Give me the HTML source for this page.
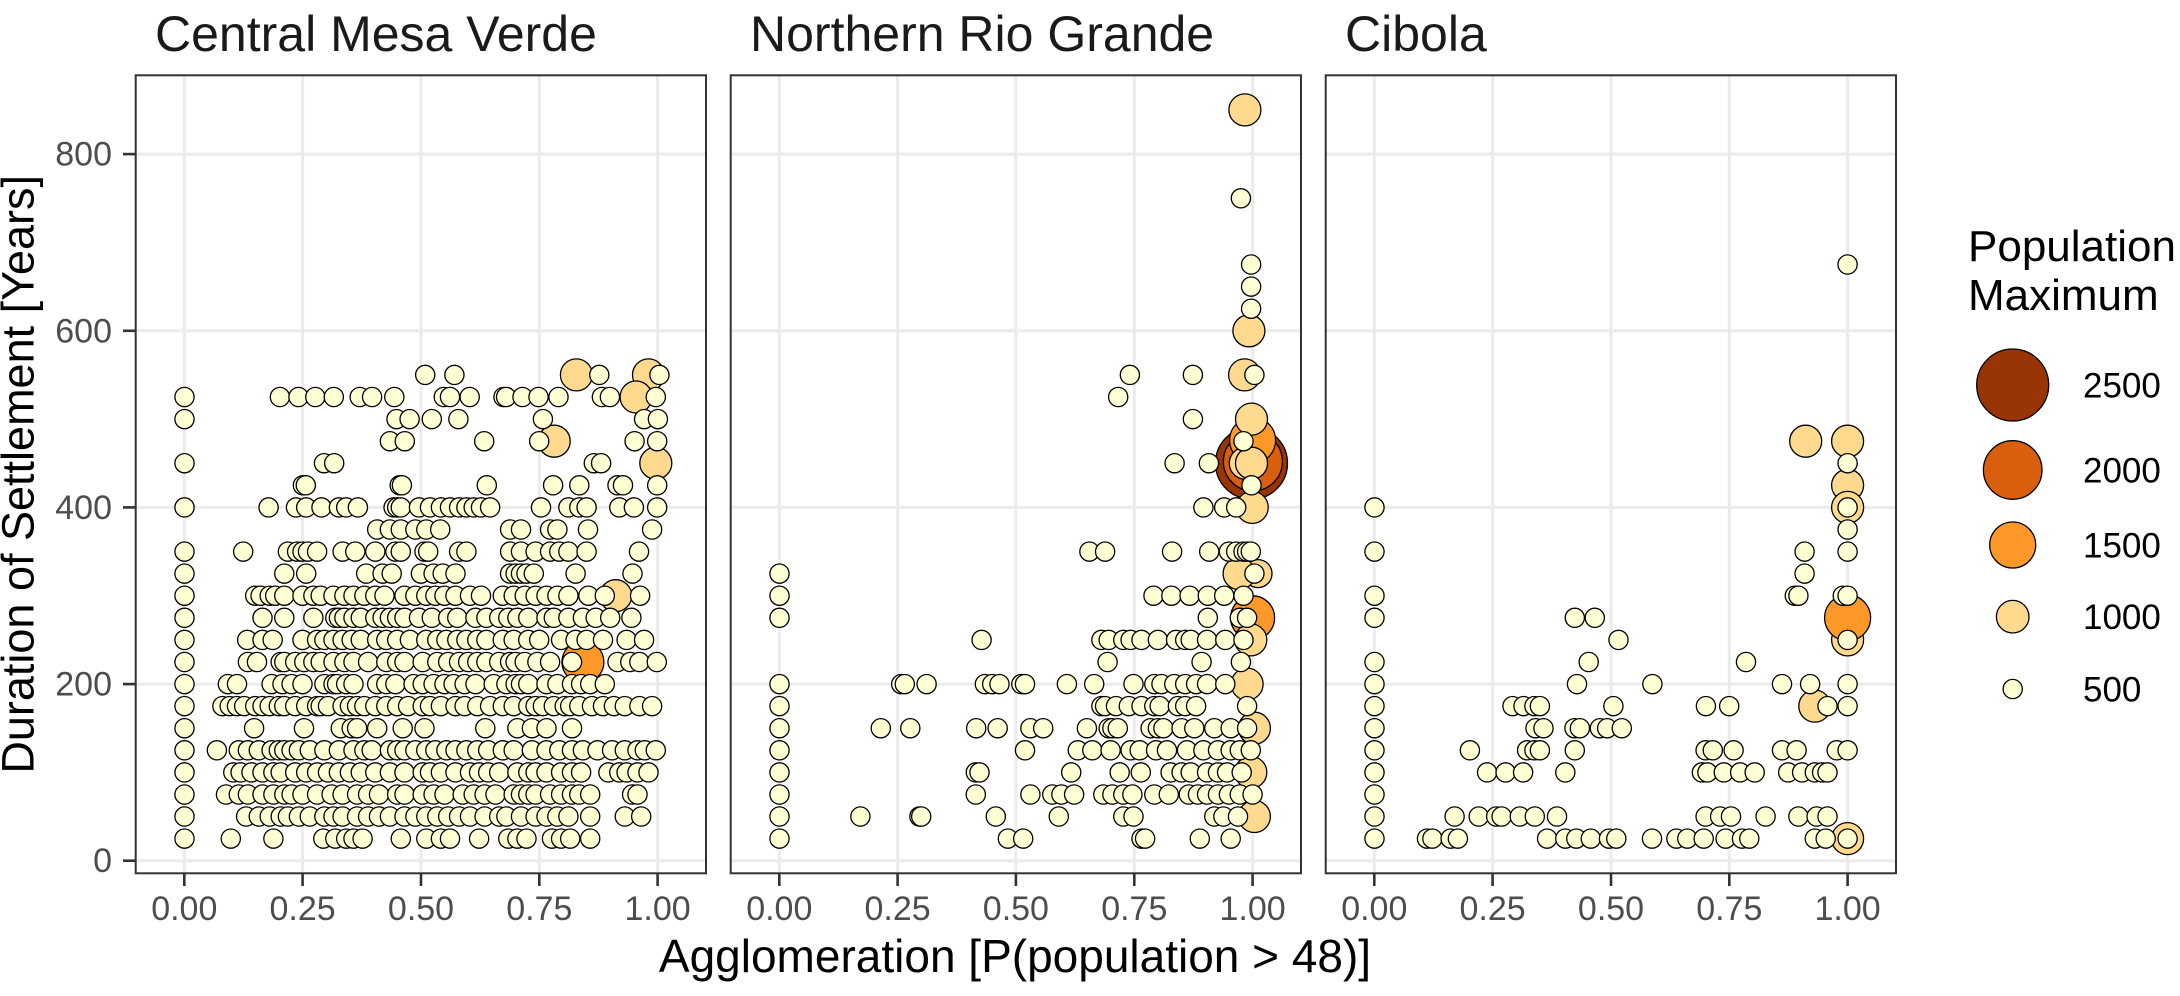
<!DOCTYPE html>
<html>
<head>
<meta charset="utf-8">
<style>
html,body{margin:0;padding:0;background:#fff;}
svg{display:block;font-family:"Liberation Sans",Arial,sans-serif;}
</style>
</head>
<body>
<svg width="2180" height="996" viewBox="0 0 2180 996">
<rect x="0" y="0" width="2180" height="996" fill="#fff"/>
<defs>
<clipPath id="c0"><rect x="135.7" y="75.3" width="570.3" height="798"/></clipPath>
<clipPath id="c1"><rect x="730.7" y="75.3" width="570.3" height="798"/></clipPath>
<clipPath id="c2"><rect x="1325.7" y="75.3" width="570.3" height="798"/></clipPath>
</defs>
<g id="grid" stroke="#EBEBEB" stroke-width="3"></g>
<g clip-path="url(#c0)" id="g0"></g>
<g clip-path="url(#c1)" id="g1"></g>
<g clip-path="url(#c2)" id="g2"></g>
<g fill="none" stroke="#333333" stroke-width="2">
<rect x="135.7" y="75.3" width="570.3" height="798"/>
<rect x="730.7" y="75.3" width="570.3" height="798"/>
<rect x="1325.7" y="75.3" width="570.3" height="798"/>
</g>
<g id="ticks" stroke="#333333" stroke-width="2.6"></g>
<g id="ticklabels" fill="#4D4D4D" font-size="34"></g>
<g fill="#1A1A1A" font-size="50">
<text x="155" y="51">Central Mesa Verde</text>
<text x="750" y="51">Northern Rio Grande</text>
<text x="1345" y="51">Cibola</text>
</g>
<text x="1015" y="972" font-size="46" fill="#000" text-anchor="middle">Agglomeration [P(population &gt; 48)]</text>
<text transform="translate(33.5,474.3) rotate(-90)" font-size="45" fill="#000" text-anchor="middle">Duration of Settlement [Years]</text>
<g fill="#000" font-size="44">
<text x="1968" y="261">Population</text>
<text x="1968" y="310">Maximum</text>
</g>
<g stroke="#000" stroke-width="1.3">
<circle cx="2012.7" cy="385" r="36" fill="#993404"/>
<circle cx="2012.7" cy="470" r="29.3" fill="#D95F0E"/>
<circle cx="2012.7" cy="545" r="23" fill="#FE9929"/>
<circle cx="2012.7" cy="616.7" r="16.3" fill="#FED98E"/>
<circle cx="2012.7" cy="689" r="9.6" fill="#FFFFD4"/>
</g>
<g fill="#000" font-size="35">
<text x="2083" y="397.5">2500</text>
<text x="2083" y="482.5">2000</text>
<text x="2083" y="557.5">1500</text>
<text x="2083" y="629">1000</text>
<text x="2083" y="701.5">500</text>
</g>
</svg>
<script>
(function(){
var L=[135,730,1325];
var PL=[135.7,730.7,1325.7];
var X0=[184.3,779.3,1374.3];
var U=473.3;
function Y(v){return 860.7-v*0.88325;}
var g='',t='',tl='';
for(var p=0;p<3;p++){
  for(var k=0;k<5;k++){
    var x=X0[p]+k*U/4;
    g+='<line x1="'+x.toFixed(1)+'" y1="75.3" x2="'+x.toFixed(1)+'" y2="873.3"/>';
    t+='<line x1="'+x.toFixed(1)+'" y1="874" x2="'+x.toFixed(1)+'" y2="886"/>';
    tl+='<text x="'+x.toFixed(1)+'" y="920" text-anchor="middle">'+['0.00','0.25','0.50','0.75','1.00'][k]+'</text>';
  }
  for(var j=0;j<5;j++){
    var y=Y(j*200);
    g+='<line x1="'+PL[p]+'" y1="'+y.toFixed(1)+'" x2="'+(PL[p]+570.3).toFixed(1)+'" y2="'+y.toFixed(1)+'"/>';
  }
}
for(var j=0;j<5;j++){
  var y=Y(j*200);
  t+='<line x1="123" y1="'+y.toFixed(1)+'" x2="135" y2="'+y.toFixed(1)+'"/>';
  tl+='<text x="112" y="'+(y+11.5).toFixed(1)+'" text-anchor="end">'+(j*200)+'</text>';
}
document.getElementById('grid').innerHTML=g;
document.getElementById('ticks').innerHTML=t;
document.getElementById('ticklabels').innerHTML=tl;

var S=[
`550: 797 877 1275 1440
525: 136 398 449 495 546 617 651 712 848 865 919 1012 1019 1064 1108 1163 1282 1304 1430
500: 136 718 754 815 888 1120 1398 1436
475: 700 741 959 1110 1372 1434
450: 136 519 547 1260 1280
425: 461 469 727 733 966 1148 1220 1325 1340 1434
400: 136 367 442 470 512 560 580 612 710 720 730 780 810 840 865 890 910 930 950 975 1115 1190 1220 1240 1330 1370 1434
375: 665 700 730 770 800 838 1030 1060 1140 1160 1244 1420
350: 136 297 420 445 460 475 500 570 605 660 715 730 795 805 890 910 1030 1060 1100 1140 1165 1190 1240 1384
325: 136 410 470 635 680 705 785 820 845 880 1030 1045 1060 1075 1095 1210 1366
300: 136 330 345 370 385 410 460 490 510 545 575 600 630 660 685 740 770 800 825 850 880 920 950 1010 1040 1070 1100 1130 1160 1190 1245 1290 1387
275: 136 350 410 490 550 560 575 600 620 660 680 700 720 740 780 815 860 885 935 965 1000 1025 1050 1080 1130 1150 1190 1230 1265 1305 1363
250: 136 308 350 378 460 500 520 545 570 595 620 665 690 720 755 800 830 855 885 910 940 965 1010 1040 1080 1110 1170 1210 1240 1285 1350 1398
225: 136 310 335 400 410 440 465 490 510 545 575 600 640 690 720 740 790 830 860 890 915 940 965 1000 1030 1045 1070 1105 1140 1200 1325 1360 1385 1433
200: 136 255 280 375 405 430 460 520 545 555 580 600 665 690 715 765 790 820 850 875 905 935 985 1020 1045 1060 1080 1130 1160 1200 1225 1250 1290
175: 136 240 260 280 300 330 350 370 395 410 440 470 500 510 530 570 590 610 630 660 690 720 750 790 810 840 880 905 940 975 1010 1040 1080 1100 1120 1150 1180 1195 1220 1255 1285 1315 1345 1385 1420
150: 136 327 464 565 595 610 665 735 795 962 1050 1090 1130 1200
125: 136 225 285 310 340 375 395 410 430 450 480 520 560 600 630 650 700 720 740 770 800 825 855 880 910 940 970 1010 1040 1090 1130 1165 1200 1230 1270 1310 1345 1380 1400 1430
100: 136 270 290 320 350 380 400 440 470 500 530 560 590 620 660 700 740 790 810 840 880 920 945 970 1000 1050 1080 1100 1130 1170 1200 1225 1300 1330 1350 1380 1410
75: 136 250 285 310 350 380 410 430 460 500 540 570 610 640 670 720 740 790 820 850 900 930 960 990 1040 1060 1080 1100 1140 1170 1200 1220 1250 1365 1380
50: 136 305 340 370 400 420 450 480 520 545 570 610 640 670 700 740 770 800 830 860 890 920 960 1000 1020 1060 1100 1130 1160 1190 1250 1345 1390
25: 136 263 380 517 550 580 600 625 730 800 840 865 945 1025 1050 1075 1145 1170 1195 1250`,
`750: 1403
675: 1431
650: 1431
625: 1431
550: 1098 1271 1440
525: 1066
500: 1271
350: 987 1030 1214 1316 1370 1390 1410 1420 1430
325: 136 1440
300: 136 1163 1212 1262 1312 1357 1410
275: 136 1312 1400 1420
250: 691 1020 1040 1080 1100 1130 1175 1225 1250 1265 1310 1360 1410
225: 1037 1295 1403
200: 136 470 480 540 700 720 740 800 810 925 1000 1108 1165 1185 1220 1250 1280 1310 1360
175: 136 1020 1030 1060 1095 1130 1165 1180 1230 1250 1280 1420
150: 136 414 495 676 735 825 860 980 1040 1050 1065 1155 1175 1190 1240 1275 1330 1375 1420
125: 136 810 955 995 1045 1100 1125 1170 1200 1255 1300 1340 1375 1400 1430
100: 136 675 685 937 1070 1128 1210 1240 1265 1310 1340 1365 1405
75: 136 675 825 885 910 945 1025 1050 1080 1105 1165 1205 1260 1285 1310 1340 1370 1400 1435
50: 136 358 520 525 730 903 1080 1108 1330 1355 1395
25: 136 763 805 1130 1140 1290 1375`,
`675: 1435
450: 1435
400: 136 1435
375: 1435
350: 136 1317 1435
325: 1317
300: 136 1290 1300 1422 1435
275: 136 686 741
250: 806 1435
225: 136 724 1156
200: 136 692 899 1255 1332 1435
175: 136 515 545 575 590 792 1046 1110 1380 1435
150: 136 578 600 685 700 755 775 815
125: 136 398 555 575 590 686 1045 1065 1122 1255 1295 1405 1435
100: 136 445 496 544 660 1035 1050 1095 1140 1180 1272 1310 1345 1365 1380
75: 136
50: 136 356 422 470 485 535 576 637 1045 1085 1115 1210 1300 1350 1380
25: 136 280 295 345 365 610 660 690 730 780 800 898 965 995 1040 1100 1145 1165 1345 1375 1435`
];
var D='#FED98E',C='#FE9929',B='#D95F0E',A='#993404';
var BIG=[
[0,1212,550,16,D],[0,1410,550,16,D],[0,1376,525,16,D],[0,1151,475,16,D],[0,1430,450,16,D],[0,1320,300,16,D],[0,1230,225,21,C],
[1,1414,850,16,D],[1,1425,600,16,D],[1,1413,550,16,D],
[1,1432,450,36,A],[1,1436,452,29.5,B],[1,1435,476,23,C],[1,1432,500,16,D],[1,1415,450,16,D],[1,1432,450,16,D],
[1,1434,400,16,D],[1,1450,325,14,D],[1,1398,325,16,D],[1,1440,275,16,D],[1,1435,275,22,C],[1,1430,250,16,D],[1,1420,200,16,D],
[1,1440,150,16,D],[1,1430,100,16,D],[1,1440,50,16,D],
[2,1320,475,16,D],[2,1435,475,16,D],[2,1435,425,16,D],[2,1435,400,16,D],[2,1435,250,16,D],[2,1345,175,16,D],[2,1435,25,16,D],[2,1435,275,23,C]
];
var out=['','',''];
function circ(p,zx,v,r,c){
  return '<circle cx="'+(L[p]+zx/2.746).toFixed(1)+'" cy="'+Y(v).toFixed(1)+'" r="'+r+'" fill="'+c+'" stroke="#000" stroke-width="1.3"/>';
}
for(var i=0;i<BIG.length;i++){var b=BIG[i];out[b[0]]+=circ(b[0],b[1],b[2],b[3],b[4]);}
var extra=[[1,1410,475],[1,1432,425],[1,1300,400],[1,1357,400],[1,1390,400],[1,1221,450],[1,1315,450]];
for(var p=0;p<3;p++){
  var lines=S[p].split('\n');
  for(var li=0;li<lines.length;li++){
    var parts=lines[li].split(':');
    var v=parseFloat(parts[0]);
    var xs=parts[1].trim().split(/\s+/);
    for(var q=0;q<xs.length;q++){out[p]+=circ(p,parseFloat(xs[q]),v,9.6,'#FFFFD4');}
  }
}
for(var e=0;e<extra.length;e++){out[extra[e][0]]+=circ(extra[e][0],extra[e][1],extra[e][2],9.6,'#FFFFD4');}
for(var p=0;p<3;p++){document.getElementById('g'+p).innerHTML=out[p];}
})();
</script>
</body>
</html>
